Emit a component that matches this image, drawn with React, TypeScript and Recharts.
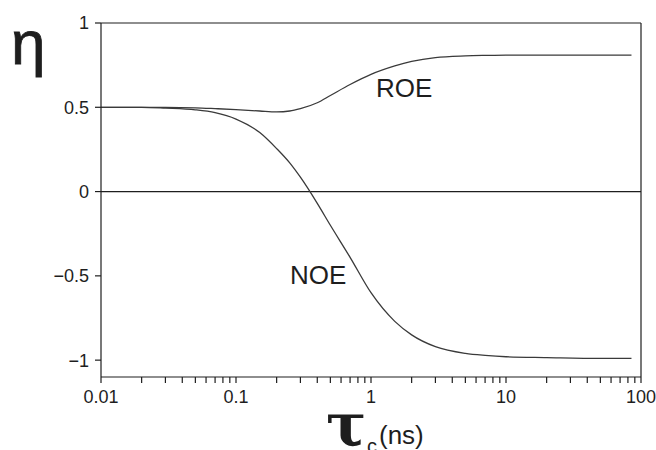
import React from "react";
import { LineChart, Line, XAxis, YAxis, ReferenceLine } from "recharts";

// correlation time (ns) and cross-relaxation efficiency
const TAU = [0.01, 0.02, 0.03, 0.05, 0.07, 0.1, 0.15, 0.2, 0.25, 0.3, 0.4, 0.5, 0.7, 1, 1.5, 2, 3, 5, 7, 10, 20, 50, 85];
const NOE = [0.5, 0.5, 0.495, 0.485, 0.468, 0.43, 0.35, 0.255, 0.17, 0.085, -0.07, -0.2, -0.39, -0.6, -0.77, -0.85, -0.92, -0.96, -0.972, -0.98, -0.985, -0.99, -0.99];
const ROE = [0.5, 0.5, 0.5, 0.497, 0.492, 0.486, 0.478, 0.473, 0.478, 0.492, 0.527, 0.57, 0.635, 0.695, 0.745, 0.772, 0.795, 0.805, 0.808, 0.81, 0.81, 0.81, 0.81];

const X_TICKS = [
  0.01, 0.02, 0.03, 0.04, 0.05, 0.06, 0.07, 0.08, 0.09,
  0.1, 0.2, 0.3, 0.4, 0.5, 0.6, 0.7, 0.8, 0.9,
  1, 2, 3, 4, 5, 6, 7, 8, 9,
  10, 20, 30, 40, 50, 60, 70, 80, 90,
  100,
];
const X_LABELS = [0.01, 0.1, 1, 10, 100];
const Y_TICKS = [-1, -0.5, 0, 0.5, 1];

const FONT = "'Liberation Sans', Arial, sans-serif";
const INK = "#1e1e1e";

const data = TAU.map((t, i) => ({ tau: t, noe: NOE[i], roe: ROE[i] }));

const XTick = (props: any) => {
  const { x, y, payload } = props;
  if (!X_LABELS.includes(payload.value)) return null;
  return (
    <text x={x} y={y} dy={16} textAnchor="middle" fontSize={18} fontFamily={FONT} fill={INK}>
      {String(payload.value)}
    </text>
  );
};

const fmtY = (v: number) => (v < 0 ? "\u2212" + String(-v) : String(v));

export default function App() {
  return (
    <div style={{ position: "absolute", left: 0, top: 0, width: 656, height: 450, background: "#fff", overflow: "hidden" }}>
      <LineChart width={656} height={450} data={data} margin={{ top: 23, right: 15, left: 31, bottom: 43 }}>
        <XAxis
          dataKey="tau"
          type="number"
          scale="log"
          domain={[0.01, 100]}
          allowDataOverflow
          ticks={X_TICKS}
          interval={0}
          tick={<XTick />}
          tickSize={6}
          tickMargin={4}
          height={30}
          stroke={INK}
          strokeWidth={1.2}
        />
        <YAxis
          type="number"
          domain={[-1.1, 1]}
          allowDataOverflow
          ticks={Y_TICKS}
          interval={0}
          tickFormatter={fmtY}
          tickSize={6}
          tickMargin={6}
          width={70}
          stroke={INK}
          strokeWidth={1.2}
          tick={{ fontSize: 18, fontFamily: FONT, fill: INK }}
        />
        <ReferenceLine y={1} stroke={INK} strokeWidth={1.2} />
        <ReferenceLine x={100} stroke={INK} strokeWidth={1.2} />
        <ReferenceLine y={0} stroke={INK} strokeWidth={1.2} />
        <Line dataKey="noe" type="monotone" stroke="#3a3a3a" strokeWidth={1.3} dot={false} isAnimationActive={false} />
        <Line dataKey="roe" type="monotone" stroke="#3a3a3a" strokeWidth={1.3} dot={false} isAnimationActive={false} />
      </LineChart>

      {/* axis titles and curve labels */}
      <svg width={656} height={450} style={{ position: "absolute", left: 0, top: 0, pointerEvents: "none" }}>
        <text x={11} y={64} fontSize={62} fontFamily={FONT} fill={INK} stroke={INK} strokeWidth={0.8}>η</text>
        <text x={376} y={97} fontSize={26} fontFamily={FONT} fill={INK}>ROE</text>
        <text x={290} y={284} fontSize={26} fontFamily={FONT} fill={INK}>NOE</text>
        <text x={326} y={446} fontSize={60} fontWeight="bold" fontFamily="'DejaVu Serif', serif" fill={INK}>τ</text>
        <text x={367} y={453} fontSize={20} fontFamily={FONT} fill={INK}>c</text>
        <text x={379} y={444} fontSize={26} fontFamily={FONT} fill={INK}>(ns)</text>
      </svg>
    </div>
  );
}
